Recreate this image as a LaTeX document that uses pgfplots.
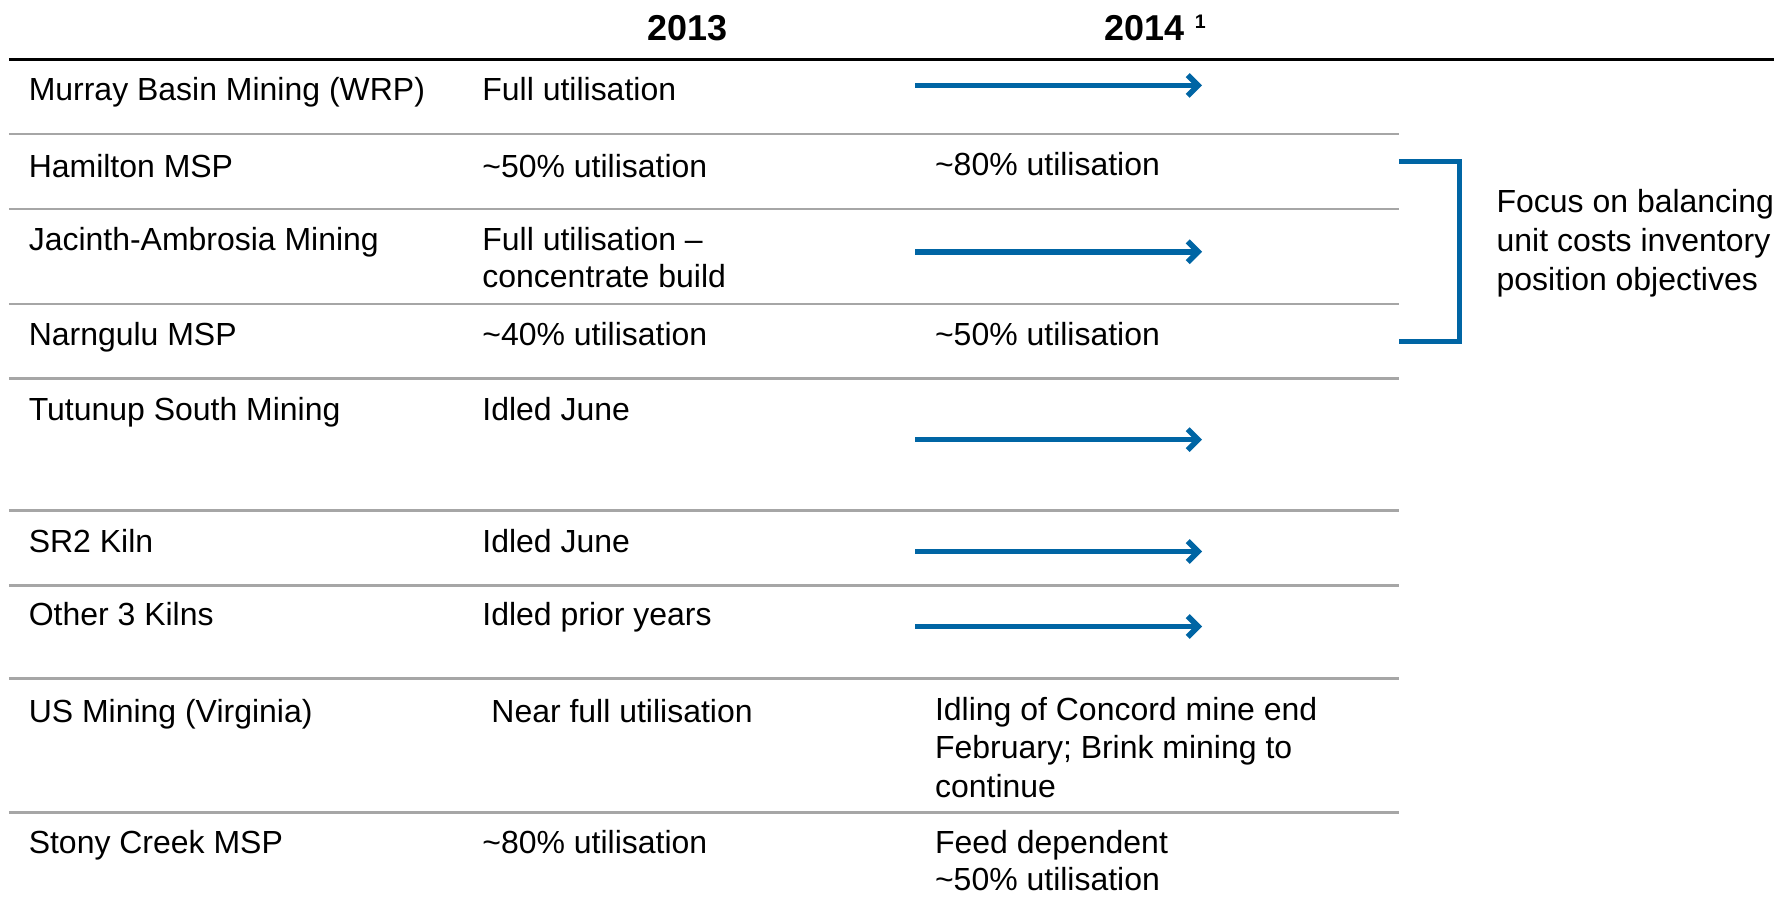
\documentclass[border=0pt]{standalone}
\usepackage{fontspec}
\setmainfont{Liberation Sans}
\usepackage{pgfplots}
\pgfplotsset{compat=1.18}
\usetikzlibrary{arrows.meta}

\definecolor{arrowblue}{RGB}{0,101,164}
\definecolor{rulegray}{RGB}{166,166,166}

\tikzset{
  cell/.style={font=\fontsize{8}{9.5}\selectfont, inner sep=0pt, anchor=base west},
  head/.style={font=\fontsize{9}{10}\selectfont\bfseries, inner sep=0pt},
  rule/.style={rulegray, line width=0.62pt},
  arr/.style={arrowblue, line width=1.4pt, -{Straight Barb[length=2.6pt,width=5.2pt]}},
}

\begin{document}
\begin{tikzpicture}
\begin{axis}[
  width=443.75pt, height=227pt, scale only axis,
  xmin=0, xmax=1775, ymin=0, ymax=908, y dir=reverse,
  hide axis, clip=false,
]
% frame extent
\addplot[draw=none, forget plot] coordinates {(0,0) (1775,908)};

% header
\node[head, anchor=base] at (axis cs:688,41) {2013};
\node[head, anchor=base west] at (axis cs:1105,41) {2014};
\node[head, anchor=base west, font=\fontsize{4.9}{5}\selectfont\bfseries] at (axis cs:1195,29) {1};
\addplot[black, line width=0.7pt, forget plot] coordinates {(9,59.5) (1775,59.5)};

% row rules
\addplot[rule, forget plot] coordinates {(9,134) (1400,134)};
\addplot[rule, forget plot] coordinates {(9,209) (1400,209)};
\addplot[rule, forget plot] coordinates {(9,304) (1400,304)};
\addplot[rule, forget plot] coordinates {(9,379) (1400,379)};
\addplot[rule, forget plot] coordinates {(9,511) (1400,511)};
\addplot[rule, forget plot] coordinates {(9,586) (1400,586)};
\addplot[rule, forget plot] coordinates {(9,679) (1400,679)};
\addplot[rule, forget plot] coordinates {(9,813) (1400,813)};

% first column
\node[cell] at (axis cs:28,101) {Murray Basin Mining (WRP)};
\node[cell] at (axis cs:28,178) {Hamilton MSP};
\node[cell] at (axis cs:28,251) {Jacinth-Ambrosia Mining};
\node[cell] at (axis cs:28,346) {Narngulu MSP};
\node[cell] at (axis cs:28,421) {Tutunup South Mining};
\node[cell] at (axis cs:28,553) {SR2 Kiln};
\node[cell] at (axis cs:28,626) {Other 3 Kilns};
\node[cell] at (axis cs:28,723) {US Mining (Virginia)};
\node[cell] at (axis cs:28,854) {Stony Creek MSP};

% 2013
\node[cell] at (axis cs:482,101) {Full utilisation};
\node[cell] at (axis cs:482,178) {\textasciitilde 50\% utilisation};
\node[cell] at (axis cs:482,251) {Full utilisation --};
\node[cell] at (axis cs:482,288) {concentrate build};
\node[cell] at (axis cs:482,346) {\textasciitilde 40\% utilisation};
\node[cell] at (axis cs:482,421) {Idled June};
\node[cell] at (axis cs:482,553) {Idled June};
\node[cell] at (axis cs:482,626) {Idled prior years};
\node[cell] at (axis cs:491,723) {Near full utilisation};
\node[cell] at (axis cs:482,854) {\textasciitilde 80\% utilisation};

% 2014
\addplot[arr, forget plot] coordinates {(916,85.5) (1203,85.5)};
\node[cell] at (axis cs:935,176) {\textasciitilde 80\% utilisation};
\addplot[arr, forget plot] coordinates {(916,252) (1203,252)};
\node[cell] at (axis cs:935,346) {\textasciitilde 50\% utilisation};
\addplot[arr, forget plot] coordinates {(916,440) (1203,440)};
\addplot[arr, forget plot] coordinates {(916,552) (1203,552)};
\addplot[arr, forget plot] coordinates {(916,627) (1203,627)};
\node[cell] at (axis cs:935,721) {Idling of Concord mine end};
\node[cell] at (axis cs:935,759) {February; Brink mining to};
\node[cell] at (axis cs:935,798) {continue};
\node[cell] at (axis cs:935,854) {Feed dependent};
\node[cell] at (axis cs:935,891) {\textasciitilde 50\% utilisation};

% bracket and note
\addplot[arrowblue, line width=1.2pt, line join=miter, forget plot]
  coordinates {(1400,161.5) (1461,161.5) (1461,342) (1400,342)};
\node[cell] at (axis cs:1497,213) {Focus on balancing};
\node[cell] at (axis cs:1497,252) {unit costs inventory};
\node[cell] at (axis cs:1497,291) {position objectives};
\end{axis}
\end{tikzpicture}
\end{document}
